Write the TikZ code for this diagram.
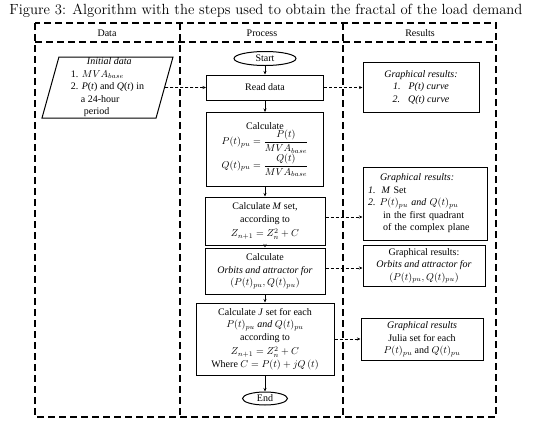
\documentclass[tikz,border=0pt]{standalone}
\usepackage{amsmath}
\usepackage{fontspec}
\newfontfamily\tnr{Liberation Serif}
\usetikzlibrary{shapes.geometric,arrows.meta}

\begin{document}
\begin{tikzpicture}
  [x=1pt,y=-1pt,
   frame/.style={line width=1.3pt,dash pattern=on 7pt off 4pt},
   txt/.style={font=\tnr\fontsize{10}{12.5}\selectfont},
   proc/.style={txt,draw,line width=1pt,rectangle,align=center,inner sep=1pt},
   term/.style={txt,draw,line width=1pt,ellipse,inner sep=0pt},
   flow/.style={-{Stealth[length=3.5pt,width=3pt]},line width=0.7pt},
   link/.style={-{Stealth[length=3.5pt,width=3pt]},line width=0.6pt,dash pattern=on 3pt off 2pt}]
  \useasboundingbox (0,0) rectangle (536,421);

  \node (title) at (266,11) {\fontsize{14.7}{16}\selectfont Figure 3: Algorithm with the steps used to obtain the fractal of the load demand};

  % columns
  \draw[frame] (35,23) rectangle (496,417);
  \draw[frame] (35,42) -- (496,42);
  \draw[frame] (180,23) -- (180,417);
  \draw[frame] (343,23) -- (343,417);
  \node[txt] (hdata) at (107,33) {Data};
  \node[txt] (hproc) at (262,33) {Process};
  \node[txt] (hres) at (420,33) {Results};

  % data
  \node[txt,draw,line width=1pt,trapezium,trapezium left angle=74,trapezium right angle=106,
        trapezium stretches body,minimum width=131pt,minimum height=61pt,align=left,inner sep=0pt]
    (init) at (107.5,87.5)
    {\hspace*{16pt}\textit{Initial data}\\
     1. $MVA_{base}$\\
     2. \textit{P}(\textit{t}) and \textit{Q}(\textit{t}) in\\
     \hspace*{10pt}a 24-hour\\
     \hspace*{13pt}period};

  % process
  \node[term,minimum width=62pt,minimum height=14pt] (start) at (265,58.5) {Start};
  \node[proc,minimum width=117pt,minimum height=25pt] (read) at (265,87.5) {Read data};
  \node[proc,minimum width=117pt,minimum height=74pt] (calc) at (265,149.5)
    {Calculate\\
     $P(t)_{pu}=\dfrac{P(t)}{MVA_{base}}$\\
     $Q(t)_{pu}=\dfrac{Q(t)}{MVA_{base}}$};
  \node[proc,minimum width=120pt,minimum height=48pt] (mset) at (265,221)
    {Calculate \textit{M} set,\\according to\\[2pt]$Z_{n+1}=Z_n^2+C$};
  \node[proc,minimum width=120pt,minimum height=46pt] (orbit) at (265,271)
    {Calculate\\\textit{Orbits and attractor for}\\$(P(t)_{pu},Q(t)_{pu})$};
  \node[proc,minimum width=138pt,minimum height=72pt] (jset) at (265,339)
    {Calculate \textit{J} set for each\\
     $P(t)_{pu}$ \textit{and} $Q(t)_{pu}$\\
     according to\\[2pt]
     $Z_{n+1}=Z_n^2+C$\\
     Where $C=P(t)+jQ\,(t)$};
  \node[term,minimum width=45pt,minimum height=13pt] (end) at (265,398.5) {End};

  % results
  \node[proc,minimum width=116pt,minimum height=50pt] (res1) at (421,87.5)
    {\textit{Graphical results:}\\\textit{1.\hspace{8pt}P(t) curve}\\\textit{2.\hspace{8pt}Q(t) curve}};
  \node[proc,align=left,text width=114pt,inner xsep=5pt,minimum height=73pt] (res2) at (425,203.5)
    {\hspace*{12pt}\textit{Graphical results:}\\
     \textit{1.}\hspace{6pt}\textit{M} Set\\
     \textit{2.}\hspace{4pt}$P(t)_{pu}$ \textit{and} $Q(t)_{pu}$\\
     \hspace*{15pt}in the first quadrant\\
     \hspace*{15pt}of the complex plane};
  \node[proc,minimum width=122pt,minimum height=41pt] (res3) at (424,265.5)
    {Graphical results:\\\textit{Orbits and attractor for}\\$(P(t)_{pu},Q(t)_{pu})$};
  \node[proc,minimum width=122pt,minimum height=42pt] (res4) at (422,339)
    {\textit{Graphical results}\\Julia set for each\\$P(t)_{pu}$ and $Q(t)_{pu}$};

  \draw[flow] (start) -- (read);
  \draw[flow] (read) -- (calc);
  \draw[flow] (calc) -- (mset);
  \draw[flow] (mset) -- (orbit);
  \draw[flow] (orbit) -- (jset);
  \draw[flow] (jset) -- (end);

  \draw[link] (init) -- (read);
  \draw[link] (read) -- (res1);
  \draw[link] ([yshift=4pt]mset.east) -- ([yshift=4pt]mset.east -| res2.west);
  \draw[link] ([yshift=3pt]orbit.east) -- ([yshift=3pt]orbit.east -| res3.west);
  \draw[link] (jset) -- (res4);
\end{tikzpicture}
\end{document}
